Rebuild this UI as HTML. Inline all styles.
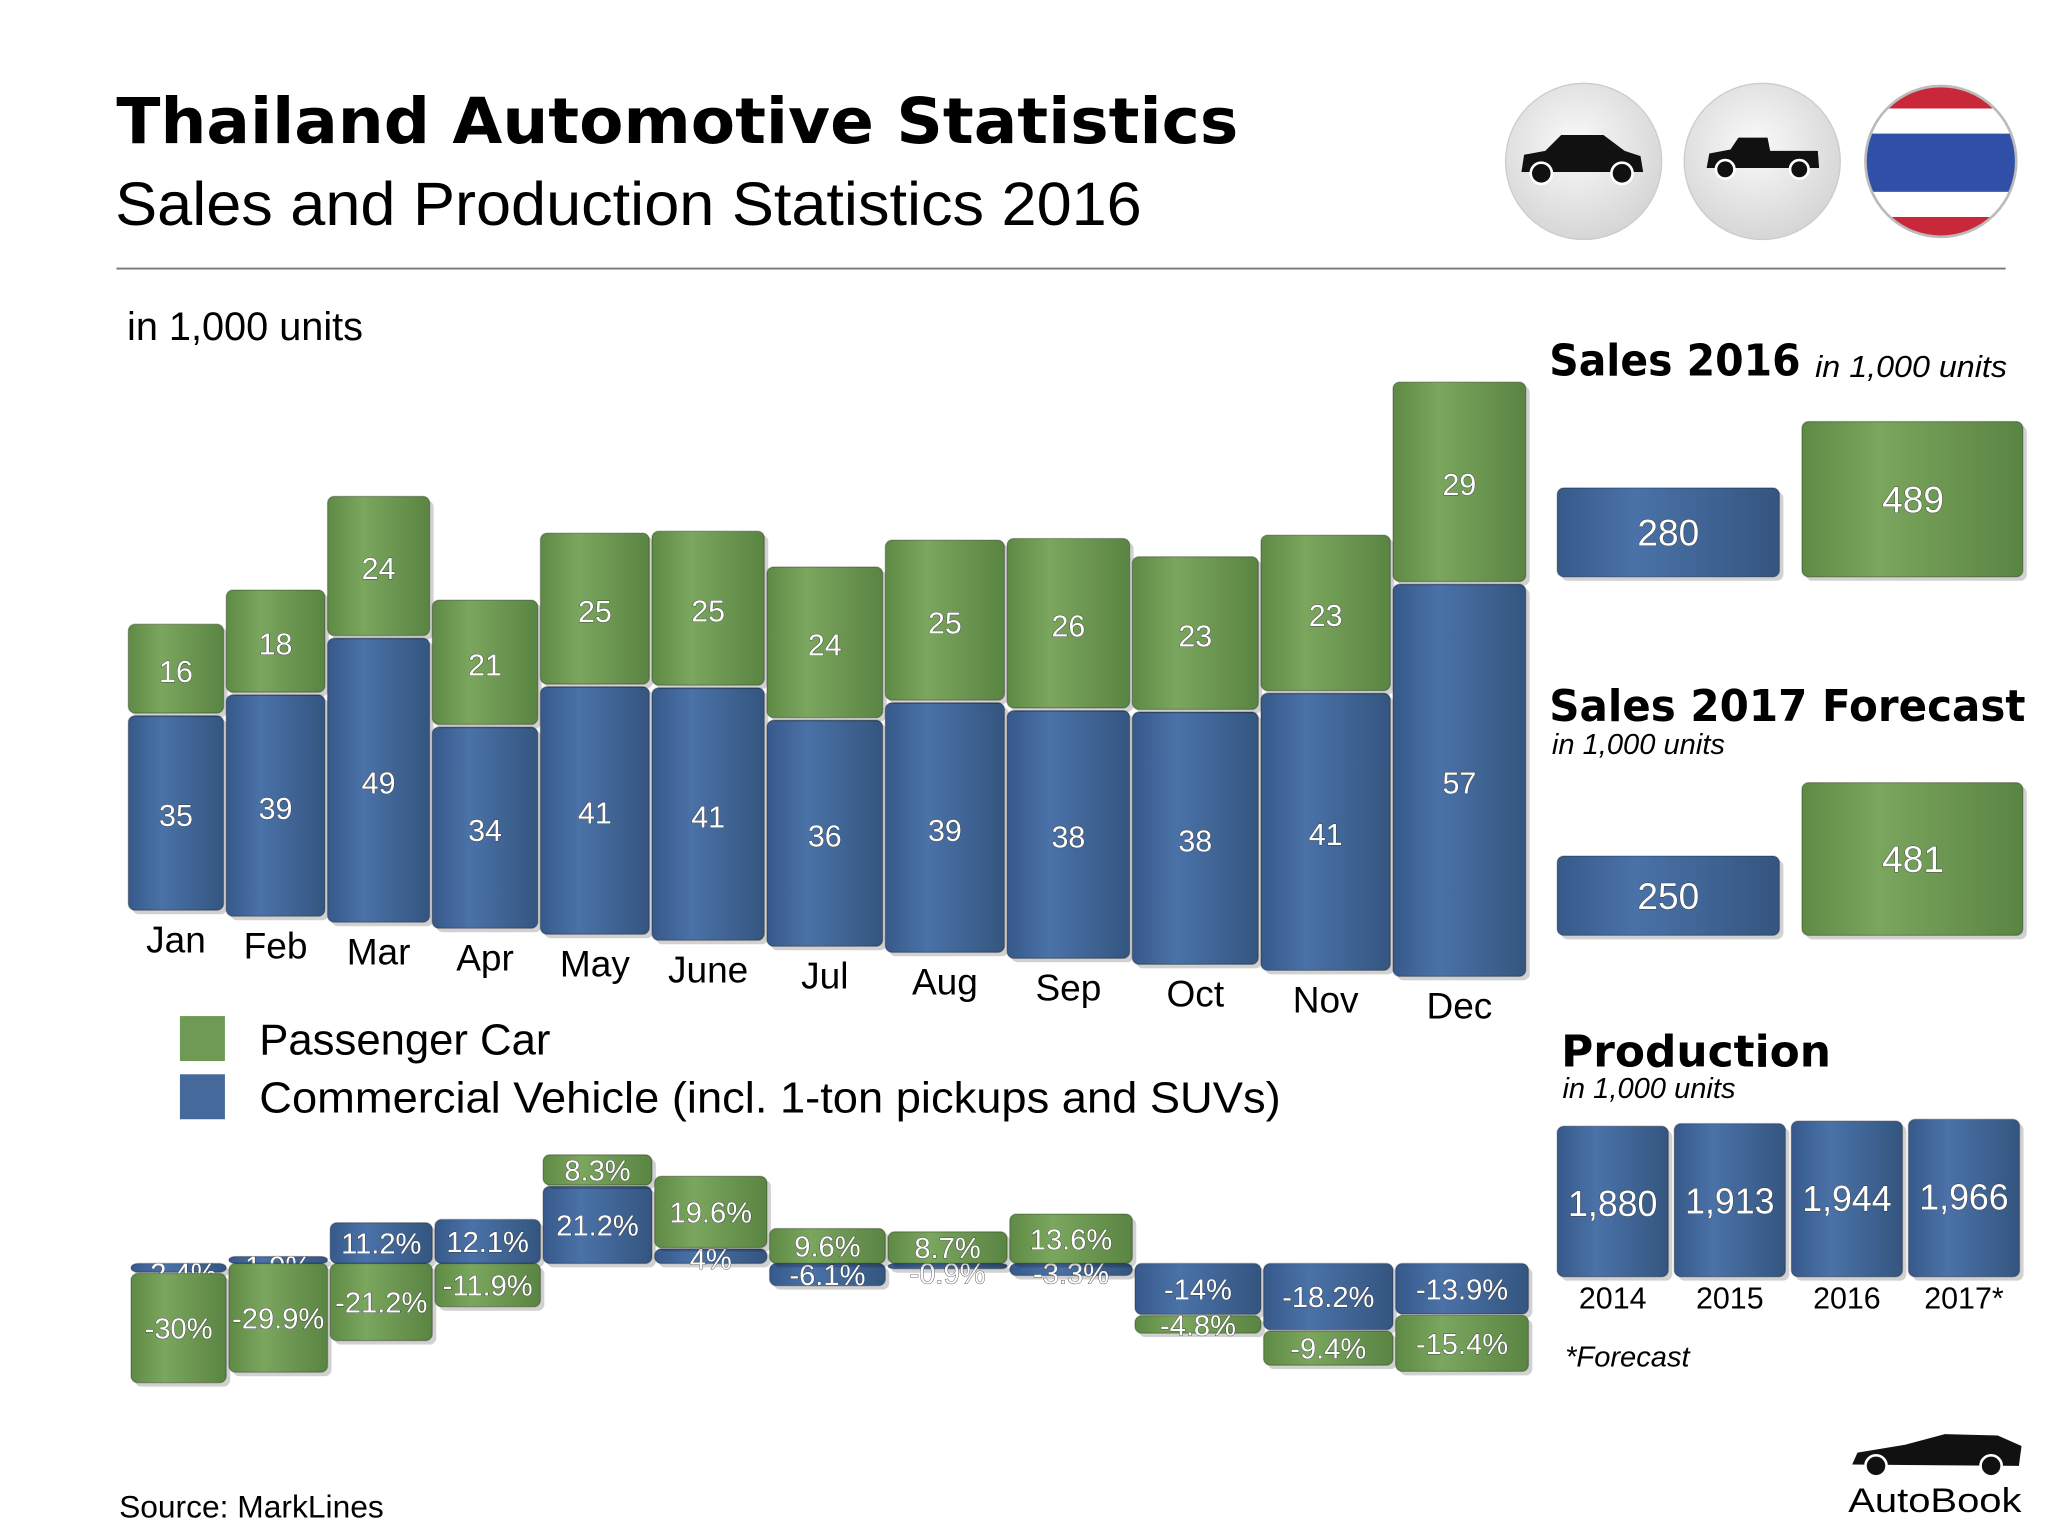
<!DOCTYPE html>
<html><head><meta charset="utf-8"><style>
html,body{margin:0;padding:0;background:#fff;width:2048px;height:1536px;overflow:hidden}
svg{display:block}
</style></head><body>
<svg id="chart" width="2048" height="1536" viewBox="0 0 1548 1161" xmlns="http://www.w3.org/2000/svg" font-family="'Liberation Sans', sans-serif">
<defs>
<linearGradient id="gG" x1="0" x2="1" y1="0" y2="0"><stop offset="0" stop-color="#5f8a45"/><stop offset="0.35" stop-color="#7aa65e"/><stop offset="1" stop-color="#5a8442"/></linearGradient>
<linearGradient id="gB" x1="0" x2="1" y1="0" y2="0"><stop offset="0" stop-color="#37598a"/><stop offset="0.35" stop-color="#4a72a8"/><stop offset="1" stop-color="#34557f"/></linearGradient>
<radialGradient id="gC" cx="0.45" cy="0.4" r="0.6"><stop offset="0" stop-color="#fafafa"/><stop offset="1" stop-color="#d6d6d6"/></radialGradient>
<clipPath id="flagClip"><circle cx="1467" cy="122" r="57"/></clipPath>
</defs>
<g>
<text x="88" y="108" font-family="'DejaVu Sans', sans-serif" font-weight="bold" font-size="48" textLength="848" lengthAdjust="spacingAndGlyphs">Thailand Automotive Statistics</text>
<text x="87" y="170" font-size="46" textLength="776" lengthAdjust="spacingAndGlyphs">Sales and Production Statistics 2016</text>
<line x1="88" y1="203" x2="1516" y2="203" stroke="#777" stroke-width="1.5"/>
<g><circle cx="1197" cy="122" r="59" fill="url(#gC)" stroke="#ccc"/>
<path d="M1150 130 L1152 117 L1168 114 L1180 102 L1212 102 L1228 114 L1240 118 L1242 130 Z" fill="#111"/><circle cx="1165" cy="131" r="8" fill="#111" stroke="#fff" stroke-width="2"/><circle cx="1226" cy="131" r="8" fill="#111" stroke="#fff" stroke-width="2"/></g>
<g><circle cx="1332" cy="122" r="59" fill="url(#gC)" stroke="#ccc"/>
<path d="M1290 127 L1292 116 L1308 113 L1314 104 L1336 104 L1338 114 L1374 114 L1375 127 Z" fill="#111"/><circle cx="1304" cy="128" r="7" fill="#111" stroke="#fff" stroke-width="2"/><circle cx="1360" cy="128" r="7" fill="#111" stroke="#fff" stroke-width="2"/></g>
<g clip-path="url(#flagClip)">
<rect x="1408" y="62" width="120" height="122" fill="#c8283a"/><rect x="1408" y="82" width="120" height="82" fill="#fff"/><rect x="1408" y="101" width="120" height="44" fill="#3050a8"/></g>
<circle cx="1467" cy="122" r="57" fill="none" stroke="#bbb" stroke-width="2"/>
</g>
<text x="96" y="257" font-size="30">in 1,000 units</text>
<g id="topChart"></g>
<g>
<rect x="136" y="768" width="34" height="34" fill="#6f9a55"/>
<text x="196" y="797" font-size="33">Passenger Car</text>
<rect x="136" y="812" width="34" height="34" fill="#45699b"/>
<text x="196" y="841" font-size="33" textLength="772" lengthAdjust="spacingAndGlyphs">Commercial Vehicle (incl. 1-ton pickups and SUVs)</text>
</g>
<g id="growthChart"></g>
<g id="side">
<text x="1171" y="284" font-family="'DejaVu Sans', sans-serif" font-weight="bold" font-size="33" textLength="190" lengthAdjust="spacingAndGlyphs">Sales 2016</text>
<text x="1372" y="285" font-style="italic" font-size="23" textLength="145" lengthAdjust="spacingAndGlyphs">in 1,000 units</text>
<text x="1171" y="545" font-family="'DejaVu Sans', sans-serif" font-weight="bold" font-size="33" textLength="360" lengthAdjust="spacingAndGlyphs">Sales 2017 Forecast</text>
<text x="1173" y="570" font-style="italic" font-size="22">in 1,000 units</text>
<text x="1180" y="806" font-family="'DejaVu Sans', sans-serif" font-weight="bold" font-size="33" textLength="204" lengthAdjust="spacingAndGlyphs">Production</text>
<text x="1181" y="830" font-style="italic" font-size="22">in 1,000 units</text>
<text x="1183" y="1033" font-style="italic" font-size="22">*Forecast</text>
</g>
<text x="90" y="1147" font-size="24">Source:  MarkLines</text>
<g>
<path d="M1400 1107 L1404 1098 L1440 1092 L1470 1084 L1510 1085 L1528 1093 L1526 1108 Z" fill="#111"/>
<circle cx="1418" cy="1108" r="8" fill="#111" stroke="#fff" stroke-width="2"/><circle cx="1505" cy="1108" r="8" fill="#111" stroke="#fff" stroke-width="2"/>
<text x="1397" y="1143" font-size="26" textLength="131" lengthAdjust="spacingAndGlyphs">AutoBook</text>
</g>
</svg>
<script>
const months = ["Jan","Feb","Mar","Apr","May","June","Jul","Aug","Sep","Oct","Nov","Dec"];
const commercialSales = [35,39,49,34,41,41,36,39,38,38,41,57];
const passengerSales = [16,18,24,21,25,25,24,25,26,23,23,29];
const commercialGrowth = [-2.4,1.9,11.2,12.1,21.2,4,-6.1,-0.9,-3.3,-14,-18.2,-13.9];
const passengerGrowth = [-30,-29.9,-21.2,-11.9,8.3,19.6,9.6,8.7,13.6,-4.8,-9.4,-15.4];
const salesLabels = ["2016","2017"];
const salesCommercial = [280,250];
const salesPassenger = [489,481];
const prodYears = ["2014","2015","2016","2017*"];
const prodValues = [1880,1913,1944,1966];

const NS="http://www.w3.org/2000/svg";
function mk(tag, attrs, parent){const e=document.createElementNS(NS,tag);for(const k in attrs)e.setAttribute(k,attrs[k]);parent.appendChild(e);return e;}
function fmt(v){return v.toLocaleString('en-US');}
function label(parent,x,y,t,size){const e=mk('text',{x:x,y:y,'text-anchor':'middle','font-size':size,fill:'#fff',stroke:'#333','stroke-width':0.6,'paint-order':'stroke'},parent);e.textContent=t;return e;}
function box(parent,x,y,w,h,fill){
  mk('rect',{x:x+3,y:y+3,width:w,height:h,rx:5,fill:'#000',opacity:0.18},parent);
  return mk('rect',{x:x,y:y,width:w,height:h,rx:5,fill:fill,stroke:'rgba(0,0,0,0.25)','stroke-width':1},parent);
}
function xLeft(i){return 97+74*i+1.29*i*(i-1);}
function bw(i){return 72+2.58*i;}
function baseY(i){return 688+50*i/11;}
function kY(i){return 4.2+1.0*i/11;}

const topG=document.getElementById('topChart');
months.forEach((m,i)=>{
  const g=mk('g',{},topG);
  
  
  const x=xLeft(i),w=bw(i),b=baseY(i),k=kY(i);
  const hb=commercialSales[i]*k,hg=passengerSales[i]*k;
  const rb=box(g,x,b-hb,w,hb,'url(#gB)');
  
  
  const rg=box(g,x,b-hb-hg-2,w,hg,'url(#gG)');
  
  
  label(g,x+w/2,b-hb/2+10,commercialSales[i],23);
  label(g,x+w/2,b-hb-hg/2+8,passengerSales[i],23);
  const t=mk('text',{x:x+w/2,y:b+32,'text-anchor':'middle','font-size':28},g);
  
  
  t.textContent=m;
});

const gc=document.getElementById('growthChart');
const base=955,gk=2.75;
months.forEach((m,i)=>{
  const g=mk('g',{},gc);
  
  
  const x=xLeft(i)+2,w=bw(i);
  let up=base,down=base;
  [[commercialGrowth[i],'url(#gB)','commercial'],[passengerGrowth[i],'url(#gG)','passenger']].forEach(([v,f,n])=>{
    const h=Math.abs(v)*gk;
    let y;
    if(v>=0){y=up-h;up=y-1;}else{y=down;down=y+h+1;}
    const r=box(g,x,y,w,Math.max(h,4),f);
    
    
    label(g,x+w/2,y+Math.max(h,14)/2+8,v+'%',22);
  });
});

const side=document.getElementById('side');
const sk=0.24;
[[0,436],[1,707]].forEach(([j,by])=>{
  const g=mk('g',{},side);
  
  
  const hb=salesCommercial[j]*sk,hg=salesPassenger[j]*sk;
  const r1=box(g,1177,by-hb,168,hb,'url(#gB)');
  
  
  label(g,1261,by-hb/2+10,salesCommercial[j],28);
  const r2=box(g,1362,by-hg,167,hg,'url(#gG)');
  
  
  label(g,1446,by-hg/2+10,salesPassenger[j],28);
});
const pk=0.0605,pb=965;
prodYears.forEach((y,i)=>{
  const g=mk('g',{},side);
  
  
  const x=1177+i*88.5,w=84,h=prodValues[i]*pk;
  const r=box(g,x,pb-h,w,h,'url(#gB)');
  
  
  label(g,x+w/2,pb-h+68,fmt(prodValues[i]),27);
  const t=mk('text',{x:x+w/2,y:989,'text-anchor':'middle','font-size':23},g);
  
  
  t.textContent=y;
});
</script>
</body></html>
